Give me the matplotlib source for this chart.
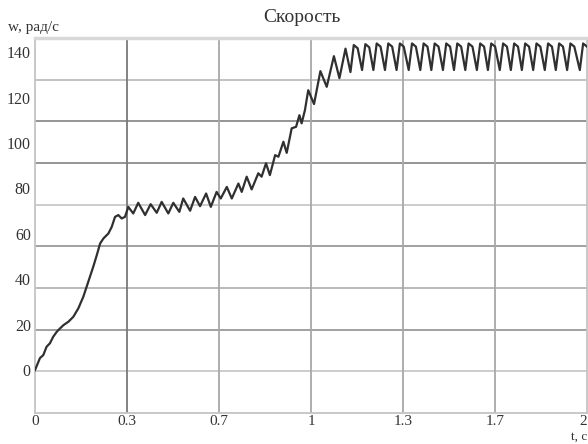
import numpy as np
import matplotlib.pyplot as plt

# скорость двигателя
t = [0.000, 0.018, 0.030, 0.042, 0.054, 0.066, 0.079, 0.091, 0.103, 0.121,
     0.139, 0.157, 0.175, 0.187, 0.199, 0.211, 0.224, 0.236, 0.248, 0.266,
     0.278, 0.290, 0.302, 0.314, 0.326, 0.338,
     0.356, 0.374, 0.399, 0.419, 0.441, 0.459, 0.483, 0.501, 0.523, 0.537,
     0.562, 0.580, 0.598, 0.620, 0.637, 0.658, 0.673, 0.695, 0.713, 0.737,
     0.749, 0.767, 0.785, 0.809, 0.821, 0.837, 0.851, 0.870, 0.882, 0.900,
     0.912, 0.930, 0.946, 0.958, 0.966, 0.978, 0.990, 1.011, 1.034, 1.057,
     1.083, 1.103, 1.125,
     1.143, 1.155, 1.169, 1.185, 1.197, 1.211, 1.226, 1.238, 1.252,
     1.268, 1.280, 1.294, 1.310, 1.322, 1.336, 1.354, 1.366, 1.380,
     1.396, 1.408, 1.422, 1.436, 1.448, 1.462, 1.478, 1.490, 1.504,
     1.518, 1.530, 1.544, 1.559, 1.571, 1.585, 1.601, 1.613, 1.627,
     1.641, 1.653, 1.667, 1.684, 1.696, 1.710, 1.724, 1.736, 1.750,
     1.764, 1.776, 1.790, 1.805, 1.817, 1.831, 1.847, 1.859, 1.873,
     1.887, 1.899, 1.913, 1.928, 1.940, 1.954, 1.974, 1.986, 2.000]
w = [0.0, 5.3, 6.6, 10.3, 11.8, 14.7, 16.9, 18.4, 19.8, 21.3,
     23.5, 27.2, 32.3, 36.7, 41.1, 45.5, 50.7, 55.8, 58.0, 60.2,
     63.1, 67.5, 68.3, 66.8, 67.5, 71.9,
     69.0, 73.7, 68.3, 73.1, 69.3, 74.1, 69.0, 73.7, 69.7, 75.6,
     70.2, 76.3, 72.2, 77.8, 71.9, 78.5, 75.6, 80.7, 75.6, 82.2,
     78.5, 85.2, 79.6, 86.7, 85.2, 91.1, 85.9, 94.7, 94.0, 100.6,
     95.7, 106.5, 107.2, 112.3, 108.7, 114.5, 123.3, 117.2, 131.7, 124.8,
     138.3, 128.6, 141.6,
     131.3, 143.2, 141.8, 132.2, 143.6, 142.2, 132.2, 143.9, 142.5,
     132.2, 143.9, 142.5, 132.2, 143.9, 142.5, 132.2, 143.9, 142.5,
     132.2, 143.9, 142.5, 132.2, 143.9, 142.5, 132.2, 143.9, 142.5,
     132.2, 143.9, 142.5, 132.2, 143.9, 142.5, 132.2, 143.9, 142.5,
     132.2, 143.9, 142.5, 132.2, 143.9, 142.5, 132.2, 143.9, 142.5,
     132.2, 143.9, 142.5, 132.2, 143.9, 142.5, 132.2, 143.9, 142.5,
     132.2, 143.9, 142.5, 132.2, 143.9, 142.5, 132.2, 143.9, 142.5]

x_ticks = [0, 1/3, 2/3, 1, 4/3, 5/3, 2]
x_labels = ['0', '0.3', '0.7', '1', '1.3', '1.7', '2']
y_ticks = [0, 20, 40, 60, 80, 100, 120, 140]

plt.rcParams['font.family'] = ['Liberation Serif', 'DejaVu Serif']

fig = plt.figure(figsize=(5.88, 4.44), dpi=100)
ax = fig.add_axes([35/588, 31/444, 552/588, 375/444])
ax.set_xlim(0, 2)
ax.set_ylim(-18.9, 146.3)

# сетка делит поле на 9 частей по вертикали (подписи с ней не совпадают)
hgrid = np.linspace(-18.9, 146.3, 10)[1:-1]
h_cols = ['#c8c8c8', '#9a9a9a', '#b4b4b4', '#9a9a9a', '#c8c8c8', '#8c8c8c', '#8c8c8c', '#bdbdbd']
for y, c in zip(hgrid, h_cols):
    ax.axhline(y, color=c, lw=1.3, zorder=1)
v_cols = ['#7a7a7a', '#a8a8a8', '#a8a8a8', '#a8a8a8', '#a8a8a8']
for x, c in zip(x_ticks[1:-1], v_cols):
    ax.axvline(x, color=c, lw=1.3, zorder=1)

ax.plot(t, w, color='#303030', lw=1.6, zorder=3)

ax.set_xticks(x_ticks, x_labels)
ax.set_yticks(y_ticks)
ax.tick_params(length=0, labelsize=11.5, colors='#333333', pad=3)
ax.tick_params(axis='x', labelsize=11, pad=1.5)
ax.get_xticklabels()[-1].set_ha('right')
for s in ax.spines.values():
    s.set_color('#c4c4c4')
    s.set_linewidth(1.3)
ax.spines['top'].set_linewidth(2.5)
ax.spines['top'].set_color('#d8d8d8')

fig.text(302/588, 1 - 18/444, 'Скорость', ha='center', va='center', fontsize=14, color='#333333')
fig.text(8/588, 1 - 27/444, 'w, рад/с', ha='left', va='center', fontsize=11, color='#333333')
fig.text(587/588, 1 - 443/444, 't, с', ha='right', va='bottom', fontsize=9.5, color='#333333')

fig.savefig('out.png', dpi=100)
